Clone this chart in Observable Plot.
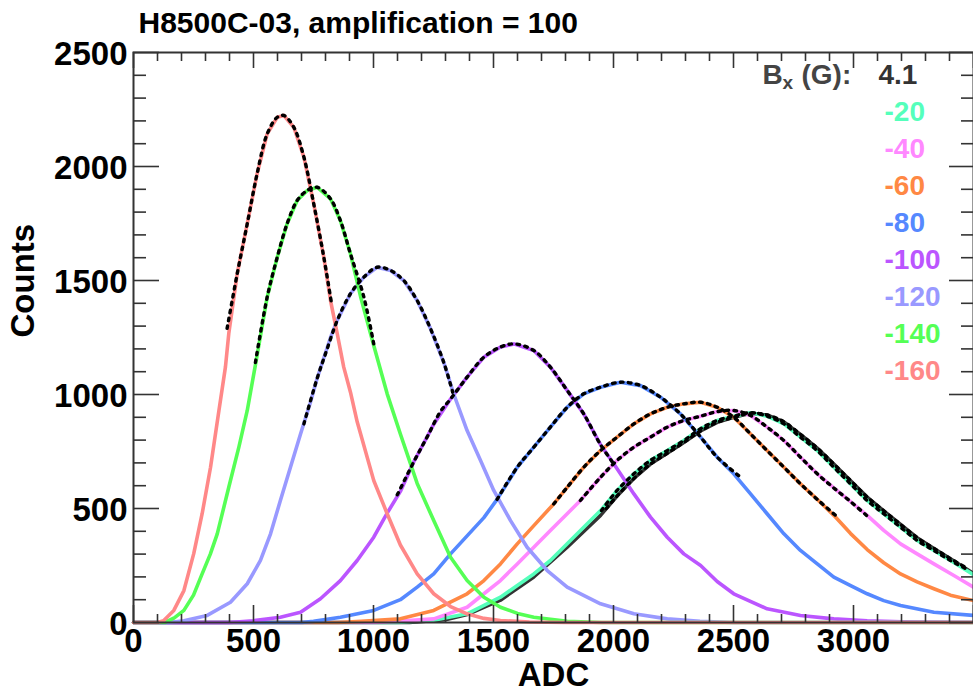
<!DOCTYPE html>
<html>
<head>
<meta charset="utf-8">
<script src="https://cdn.jsdelivr.net/npm/d3@7"></script>
<script src="https://cdn.jsdelivr.net/npm/@observablehq/plot@0.6"></script>
<style>
  html, body { margin: 0; padding: 0; background: #fff; }
  #chart { width: 973px; height: 693px; }
</style>
</head>
<body>
<div id="chart"></div>
<script>
// ---------- Data ([ADC, counts]) ----------
const chartTitle = "H8500C-03, amplification = 100";
const xTitle = "ADC";
const yTitle = "Counts";
const legendHeader = ["B", "x", "(G):"];

const seriesLabels = ["4.1", "-20", "-40", "-60", "-80", "-100", "-120", "-140", "-160"];
const seriesColors = ["#333333", "#55ffbb", "#ff88ff", "#ff8844", "#5588ff", "#bb55ff", "#9999ff", "#55ff55", "#ff8888"];

const h_p4_1 = [[0,0],[1150,0],[1300,12],[1390,35],[1529,98],[1668,200],[1807,330],[1946,470],[2015,555],[2085,632],[2154,695],[2224,742],[2293,790],[2363,840],[2432,878],[2501,900],[2571,918],[2640,910],[2710,880],[2779,825],[2849,765],[2918,695],[2988,622],[3057,550],[3126,490],[3196,430],[3265,372],[3335,325],[3404,280],[3500,215]];
const h_m20 = [[0,0],[1100,0],[1250,10],[1390,38],[1529,111],[1668,213],[1737,272],[1807,345],[1876,418],[1946,491],[2015,579],[2085,652],[2154,711],[2224,754],[2293,798],[2363,850],[2432,886],[2501,905],[2571,920],[2640,905],[2710,871],[2779,813],[2849,754],[2918,681],[2988,608],[3057,535],[3126,477],[3196,418],[3265,360],[3335,316],[3404,272],[3500,210]];
const h_m40 = [[0,0],[1000,0],[1100,5],[1251,16],[1390,67],[1460,126],[1529,184],[1599,257],[1668,330],[1737,404],[1807,477],[1862,535],[1946,637],[2015,711],[2085,769],[2154,813],[2224,857],[2293,886],[2363,905],[2432,925],[2501,930],[2571,908],[2640,857],[2710,798],[2779,725],[2849,652],[2918,590],[2988,530],[3057,470],[3126,404],[3196,345],[3265,301],[3335,257],[3420,205],[3500,155]];
const h_m60 = [[0,0],[850,0],[950,5],[1112,16],[1251,53],[1390,126],[1460,184],[1529,257],[1599,345],[1668,425],[1751,520],[1807,593],[1876,681],[1946,754],[2015,813],[2085,871],[2154,915],[2224,944],[2293,959],[2363,966],[2432,944],[2501,900],[2571,827],[2640,754],[2710,681],[2779,608],[2849,540],[2918,470],[2988,390],[3057,320],[3126,262],[3196,213],[3265,178],[3335,148],[3404,120],[3500,96]];
const h_m80 = [[0,0],[700,0],[750,5],[862,23],[1001,53],[1112,100],[1182,155],[1251,213],[1321,301],[1390,380],[1460,460],[1515,540],[1599,681],[1668,769],[1737,857],[1807,944],[1876,1003],[1946,1032],[2029,1054],[2113,1039],[2196,988],[2279,915],[2363,813],[2432,725],[2501,652],[2571,564],[2640,477],[2710,389],[2779,316],[2849,257],[2918,199],[2988,162],[3057,126],[3126,96],[3196,75],[3335,45],[3500,31]];
const h_m100 = [[0,0],[400,0],[500,8],[612,23],[696,45],[779,104],[862,184],[932,272],[1001,374],[1057,480],[1112,575],[1168,705],[1224,815],[1251,870],[1321,980],[1390,1076],[1460,1164],[1529,1208],[1585,1222],[1668,1193],[1737,1120],[1807,1018],[1876,915],[1946,780],[2001,696],[2085,564],[2154,462],[2224,374],[2293,301],[2363,250],[2432,180],[2501,126],[2640,60],[2779,31],[2918,16],[3057,7],[3200,3],[3500,1]];
const h_m120 = [[0,0],[150,0],[210,8],[307,31],[404,89],[474,170],[529,272],[571,389],[612,535],[654,681],[696,827],[737,965],[765,1070],[793,1160],[821,1250],[849,1325],[904,1442],[960,1515],[1015,1558],[1071,1544],[1126,1500],[1182,1412],[1237,1290],[1293,1140],[1335,1000],[1390,842],[1446,711],[1501,579],[1571,447],[1640,330],[1724,228],[1807,155],[1946,82],[2085,38],[2224,16],[2360,5],[2500,0],[3500,0]];
const h_m140 = [[0,0],[130,0],[170,20],[210,53],[250,120],[286,213],[320,300],[349,389],[397,593],[439,769],[474,930],[508,1130],[557,1427],[599,1602],[640,1749],[682,1851],[724,1895],[765,1909],[821,1858],[862,1763],[904,1617],[946,1430],[1001,1215],[1057,1003],[1112,827],[1182,610],[1251,447],[1321,286],[1390,184],[1460,111],[1529,67],[1600,40],[1668,23],[1807,5],[1950,0],[3500,0]];
const h_m160 = [[0,0],[100,0],[125,8],[168,53],[210,140],[251,302],[286,477],[321,681],[356,930],[383,1120],[397,1267],[432,1529],[474,1749],[515,1968],[557,2143],[599,2216],[626,2224],[668,2172],[710,2041],[751,1836],[793,1602],[821,1412],[849,1266],[876,1120],[904,1010],[932,880],[1001,623],[1057,477],[1112,340],[1182,213],[1251,126],[1321,70],[1390,38],[1460,18],[1529,9],[1650,2],[1800,0],[3500,0]];

const f_p4_1 = [[1970,500],[2015,555],[2085,632],[2154,695],[2224,742],[2293,790],[2363,840],[2432,878],[2501,900],[2571,918],[2640,910],[2710,880],[2779,825],[2849,765],[2918,695],[2988,622],[3057,550],[3126,490],[3196,430],[3265,372],[3335,325],[3404,280],[3470,240]];
const f_m20 = [[1950,491],[2015,579],[2085,652],[2154,711],[2224,754],[2293,798],[2363,850],[2432,886],[2501,905],[2571,920],[2640,905],[2710,871],[2779,813],[2849,754],[2918,681],[2988,608],[3057,535],[3126,477],[3196,418],[3265,360],[3335,316],[3404,272],[3470,235]];
const f_m40 = [[1862,535],[1946,637],[2015,711],[2085,769],[2154,813],[2224,857],[2293,886],[2363,905],[2432,925],[2501,930],[2571,908],[2640,857],[2710,798],[2779,725],[2849,652],[2918,590],[2988,530],[3065,460]];
const f_m60 = [[1751,520],[1807,593],[1876,681],[1946,754],[2015,813],[2085,871],[2154,915],[2224,944],[2293,959],[2363,966],[2432,944],[2501,900],[2571,827],[2640,754],[2710,681],[2779,608],[2849,540],[2925,470]];
const f_m80 = [[1515,540],[1599,681],[1668,769],[1737,857],[1807,944],[1876,1003],[1946,1032],[2029,1054],[2113,1039],[2196,988],[2279,915],[2363,813],[2432,725],[2530,637]];
const f_m100 = [[1099,560],[1168,705],[1224,815],[1279,925],[1321,980],[1390,1076],[1460,1164],[1529,1208],[1585,1222],[1668,1193],[1737,1120],[1807,1018],[1876,915],[1946,780],[2001,696]];
const f_m120 = [[710,871],[765,1070],[807,1200],[849,1325],[904,1442],[960,1515],[1015,1558],[1071,1544],[1126,1500],[1182,1412],[1237,1290],[1293,1140],[1330,1010]];
const f_m140 = [[508,1140],[557,1427],[599,1602],[640,1749],[682,1851],[724,1895],[765,1909],[821,1858],[862,1763],[904,1617],[960,1427],[1001,1222]];
const f_m160 = [[390,1290],[432,1529],[474,1749],[515,1968],[557,2143],[599,2216],[626,2224],[668,2172],[710,2041],[751,1836],[793,1602],[825,1400]];

const histograms = [h_p4_1, h_m20, h_m40, h_m60, h_m80, h_m100, h_m120, h_m140, h_m160];
const fits = [f_p4_1, f_m20, f_m40, f_m60, f_m80, f_m100, f_m120, f_m140, f_m160];

const xMajorTicks = [0, 500, 1000, 1500, 2000, 2500, 3000, 3500];
const xMinorTicks = [100,200,300,400,600,700,800,900,1100,1200,1300,1400,1600,1700,1800,1900,2100,2200,2300,2400,2600,2700,2800,2900,3100,3200,3300,3400];
const xTickLabels = [0, 500, 1000, 1500, 2000, 2500, 3000];
const yMajorTicks = [0, 500, 1000, 1500, 2000, 2500];
const yMinorTicks = [100,200,300,400,600,700,800,900,1100,1200,1300,1400,1600,1700,1800,1900,2100,2200,2300,2400];
const yTickLabels = [0, 500, 1000, 1500, 2000, 2500];

// ---------- Layout ----------
const W = 973, H = 693;
const mL = 133, mR = 0, mT = 52, mB = 71;
const fw = W - mL - mR, fh = H - mT - mB;
const axisColor = "#333333";
const font = "'Liberation Sans', Arial, Helvetica, sans-serif";

const marks = [];

// histograms (4.1 drawn first, -160 last)
histograms.forEach((h, i) => {
  marks.push(Plot.line(h, {x: d => d[0], y: d => d[1], stroke: seriesColors[i], strokeWidth: 3.6, strokeLinejoin: "round"}));
});
// fits (dotted black)
fits.forEach((f) => {
  marks.push(Plot.line(f, {x: d => d[0], y: d => d[1], stroke: "#000", strokeWidth: 3.4, strokeDasharray: "2.6,5.4", curve: "catmull-rom"}));
});

// frame
marks.push(Plot.frame({stroke: axisColor, strokeWidth: 2}));

// ticks (inward), bottom / top / left / right
const tickW = 1.6;
marks.push(Plot.ruleX(xMajorTicks, {x: d => d, insetTop: fh - 17, stroke: axisColor, strokeWidth: tickW}));
marks.push(Plot.ruleX(xMinorTicks, {x: d => d, insetTop: fh - 8, stroke: axisColor, strokeWidth: tickW}));
marks.push(Plot.ruleX(xMajorTicks, {x: d => d, insetBottom: fh - 16, stroke: axisColor, strokeWidth: tickW}));
marks.push(Plot.ruleX(xMinorTicks, {x: d => d, insetBottom: fh - 9, stroke: axisColor, strokeWidth: tickW}));
marks.push(Plot.ruleY(yMajorTicks, {y: d => d, insetRight: fw - 26, stroke: axisColor, strokeWidth: tickW}));
marks.push(Plot.ruleY(yMinorTicks, {y: d => d, insetRight: fw - 13, stroke: axisColor, strokeWidth: tickW}));
marks.push(Plot.ruleY(yMajorTicks, {y: d => d, insetLeft: fw - 24, stroke: axisColor, strokeWidth: tickW}));
marks.push(Plot.ruleY(yMinorTicks, {y: d => d, insetLeft: fw - 12, stroke: axisColor, strokeWidth: tickW}));

// tick labels
const tickFont = 33;
marks.push(Plot.text(xTickLabels, {x: d => d, text: d => String(d), frameAnchor: "bottom", lineAnchor: "top", dy: 6, fontSize: tickFont, fontWeight: "bold", fill: "#000"}));
marks.push(Plot.text(yTickLabels, {y: d => d, text: d => String(d), frameAnchor: "left", textAnchor: "end", lineAnchor: "middle", dx: -6, dy: 2, fontSize: tickFont, fontWeight: "bold", fill: "#000"}));

// axis titles
marks.push(Plot.text([xTitle], {text: d => d, frameAnchor: "bottom", lineAnchor: "bottom", dy: 63, fontSize: 33, fontWeight: "bold", fill: "#000"}));
marks.push(Plot.text([yTitle], {text: d => d, frameAnchor: "left", rotate: -90, lineAnchor: "bottom", dx: -100, fontSize: 33, fontWeight: "bold", fill: "#000"}));

// chart title
marks.push(Plot.text([chartTitle], {text: d => d, frameAnchor: "top-left", textAnchor: "start", lineAnchor: "bottom", dx: 5, dy: -20, fontSize: 30, fontWeight: "bold", fill: "#000"}));

// legend header: B_x (G):
marks.push(Plot.text([legendHeader[0]], {text: d => d, frameAnchor: "top-left", textAnchor: "start", lineAnchor: "bottom", dx: 762 - mL, dy: 83 - mT, fontSize: 28, fontWeight: "bold", fill: "#444"}));
marks.push(Plot.text([legendHeader[1]], {text: d => d, frameAnchor: "top-left", textAnchor: "start", lineAnchor: "bottom", dx: 782 - mL, dy: 88 - mT, fontSize: 19, fontWeight: "bold", fill: "#444"}));
marks.push(Plot.text([legendHeader[2]], {text: d => d, frameAnchor: "top-left", textAnchor: "start", lineAnchor: "bottom", dx: 801 - mL, dy: 83 - mT, fontSize: 28, fontWeight: "bold", fill: "#444"}));

// legend entries
seriesLabels.forEach((lab, i) => {
  marks.push(Plot.text([lab], {text: d => d, frameAnchor: "top-left", textAnchor: "start", lineAnchor: "bottom", dx: (i === 0 ? 878 : 884) - mL, dy: 83 - mT + 37 * i, fontSize: 28, fontWeight: "bold", fill: seriesColors[i]}));
});

const chart = Plot.plot({
  width: W, height: H,
  marginLeft: mL, marginRight: mR, marginTop: mT, marginBottom: mB,
  x: {domain: [0, 3500], axis: null},
  y: {domain: [0, 2500], axis: null},
  style: {fontFamily: font, background: "#fff", overflow: "visible"},
  marks
});
document.getElementById("chart").appendChild(chart);
</script>
</body>
</html>
